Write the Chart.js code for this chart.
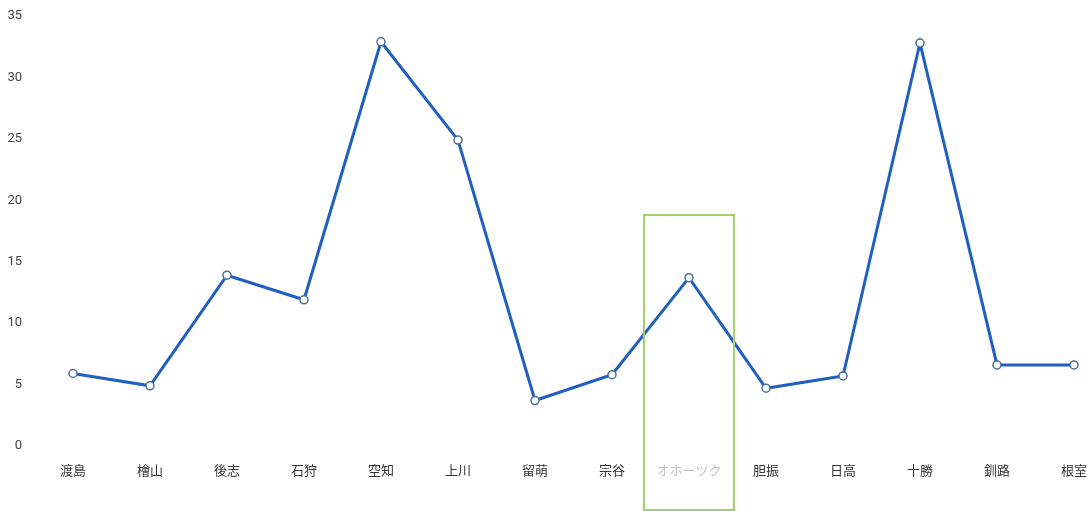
<!DOCTYPE html>
<html lang="ja">
<head>
<meta charset="utf-8">
<script src="https://cdn.jsdelivr.net/npm/chart.js@4"></script>
<style>
  html, body { margin: 0; padding: 0; background: #ffffff; }
  #wrap { width: 1087px; height: 511px; position: relative; }
</style>
</head>
<body>
<div id="wrap"><canvas id="chart"></canvas></div>
<script>
// 振興局別の値
const regions = ["渡島", "檜山", "後志", "石狩", "空知", "上川", "留萌", "宗谷", "オホーツク", "胆振", "日高", "十勝", "釧路", "根室"];
const values = [5.9, 4.9, 13.9, 11.9, 32.9, 24.9, 3.7, 5.8, 13.7, 4.7, 5.7, 32.8, 6.6, 6.6];
const yTicks = [0, 5, 10, 15, 20, 25, 30, 35];
const highlightRegion = "オホーツク";
const highlightTop = 18.8;

// green frame around the highlighted category
const highlightBox = {
  id: "highlightBox",
  afterDraw(chart) {
    const x = chart.scales.x;
    const y = chart.scales.y;
    const cx = x.getPixelForValue(regions.indexOf(highlightRegion));
    const top = y.getPixelForValue(highlightTop);
    const ctx = chart.ctx;
    ctx.save();
    ctx.strokeStyle = "#a5cf6a";
    ctx.lineWidth = 2;
    ctx.strokeRect(cx - 45, top, 90, chart.height - 1 - top);
    ctx.restore();
  }
};

new Chart(document.getElementById("chart"), {
  type: "line",
  data: {
    labels: regions,
    datasets: [
      {
        data: values,
        borderColor: "#1f5fc0",
        borderWidth: 3,
        pointRadius: 4,
        pointBorderWidth: 1.5,
        pointBackgroundColor: "#ffffff",
        pointBorderColor: "#4a6f9a",
        tension: 0
      }
    ]
  },
  options: {
    responsive: true,
    maintainAspectRatio: false,
    animation: false,
    layout: { padding: { top: 16, right: 0, left: 0, bottom: 0 } },
    plugins: {
      legend: { display: false },
      tooltip: { enabled: false }
    },
    scales: {
      x: {
        grid: { display: false, drawTicks: true, tickLength: 16 },
        border: { display: false },
        ticks: {
          padding: 0,
          maxRotation: 0,
          autoSkip: false,
          color: ctx => (regions[ctx.index] === highlightRegion ? "#c4c4c4" : "#333333"),
          font: { family: "'Noto Sans CJK JP', sans-serif", size: 13 }
        },
        afterFit: scale => { scale.height = 65; }
      },
      y: {
        min: 0,
        max: 35,
        afterBuildTicks: scale => { scale.ticks = yTicks.map(v => ({ value: v })); },
        grid: { display: false, drawTicks: true, tickLength: 48 },
        border: { display: false },
        ticks: {
          padding: 3,
          color: "#444444",
          font: { family: "Roboto, sans-serif", size: 13 }
        },
        afterFit: scale => { scale.width = 73; }
      }
    }
  },
  plugins: [highlightBox]
});
</script>
</body>
</html>
